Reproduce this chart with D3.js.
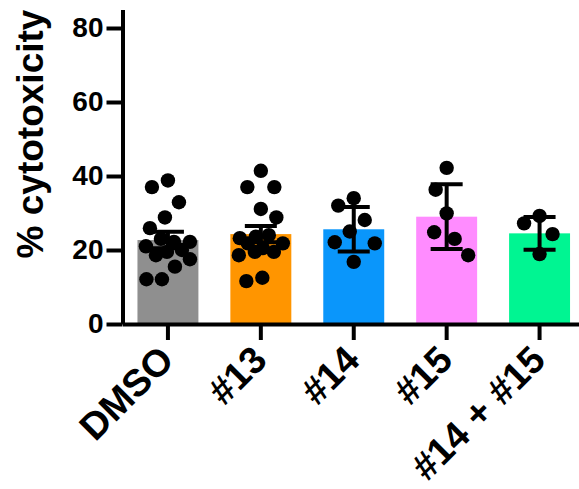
<!DOCTYPE html>
<html>
<head>
<meta charset="utf-8">
<script src="https://cdn.jsdelivr.net/npm/d3@7/dist/d3.min.js"></script>
<style>
  html, body { margin: 0; padding: 0; background: #fff; }
  svg { display: block; }
  text { font-family: "Liberation Sans", Arial, Helvetica, sans-serif; font-weight: bold; }
</style>
</head>
<body>
<script>
// ---- data ----
const categories = ["DMSO", "#13", "#14", "#15", "#14 + #15"];
const means = [22.7, 24.3, 25.6, 29.0, 24.5];
const errors = [2.2, 2.2, 6.0, 8.75, 4.4];
const pointsDMSO = [38.8, 37.0, 32.9, 28.8, 25.9, 22.2, 22.2, 23.0, 21.0, 20.0, 18.6, 19.5, 17.5, 15.5, 12.1, 12.1];
const points13 = [41.4, 37.0, 37.0, 31.1, 28.8, 23.6, 23.2, 24.0, 21.8, 21.8, 20.5, 19.5, 18.6, 19.5, 12.5, 11.6];
const points14 = [34.0, 32.0, 28.1, 25.0, 22.1, 21.8, 16.8];
const points15 = [42.2, 36.3, 29.9, 24.8, 23.0, 18.6];
const points1415 = [29.2, 27.2, 24.3, 18.9];
const yTicks = [0, 20, 40, 60, 80];
const yLabel = "% cytotoxicity";
const colors = ["#8f8f8f", "#ff9500", "#0a96fb", "#ff8cff", "#00f592"];

const points = [pointsDMSO, points13, points14, points15, points1415];

// ---- layout ----
const W = 579, H = 489;
const svg = d3.select("body").append("svg").attr("width", W).attr("height", H);

const x0 = 122.5, yBase = 324;
const y = d3.scaleLinear().domain([0, 85]).range([yBase, yBase - 85 * 3.7]);
const x = d3.scaleBand().domain(categories).range([x0, 585]).paddingInner(0.344).paddingOuter(0.161);

// bars
svg.append("g").selectAll("rect").data(categories).join("rect")
  .attr("x", d => x(d))
  .attr("width", x.bandwidth())
  .attr("y", (d, i) => y(means[i]))
  .attr("height", (d, i) => y(0) - y(means[i]))
  .attr("fill", (d, i) => colors[i]);

// error bars
const capHalf = 16;
const eb = svg.append("g").attr("stroke", "#000").attr("stroke-width", 4).attr("fill", "none");
categories.forEach((c, i) => {
  const cx = x(c) + x.bandwidth() / 2;
  const hi = y(means[i] + errors[i]), lo = y(means[i] - errors[i]);
  eb.append("line").attr("x1", cx).attr("x2", cx).attr("y1", hi).attr("y2", lo);
  eb.append("line").attr("x1", cx - capHalf).attr("x2", cx + capHalf).attr("y1", hi).attr("y2", hi);
  eb.append("line").attr("x1", cx - capHalf).attr("x2", cx + capHalf).attr("y1", lo).attr("y2", lo);
});

// dots: deterministic, clamped beeswarm (anisotropic spacing) in pixel space
const r = 7.2, D = 16, yFactor = 0.55, maxOff = 22;
const dotG = svg.append("g").attr("fill", "#000");
categories.forEach((c, i) => {
  const cx = x(c) + x.bandwidth() / 2;
  const placed = [];
  const minDist = (px, py) => placed.reduce((m, p) => Math.min(m, Math.hypot(p[0] - px, (p[1] - py) * yFactor)), Infinity);
  points[i].forEach((v, k) => {
    const py = y(v);
    let px = null;
    for (let s = 0; s <= maxOff && px === null; s += 0.5) {
      const cands = (k % 2 === 0) ? [s, -s] : [-s, s];
      for (const o of cands) {
        if (minDist(cx + o, py) >= D) { px = cx + o; break; }
      }
    }
    if (px === null) {
      let best = -1;
      for (let o = -maxOff; o <= maxOff; o += 1) {
        const md = minDist(cx + o, py);
        if (md > best + 0.01) { best = md; px = cx + o; }
      }
    }
    placed.push([px, py]);
  });
  dotG.selectAll(null).data(placed).join("circle")
    .attr("cx", d => d[0]).attr("cy", d => d[1]).attr("r", r);
});

// y axis
const yAxis = svg.append("g").attr("transform", `translate(${x0},0)`)
  .call(d3.axisLeft(y).tickValues(yTicks).tickSize(16).tickPadding(3).tickSizeOuter(0));
yAxis.select(".domain").attr("stroke", "#000").attr("stroke-width", 4);
yAxis.selectAll(".tick line").attr("stroke", "#000").attr("stroke-width", 4);
yAxis.selectAll(".tick text").attr("font-size", 28).attr("fill", "#000")
  .attr("font-family", "Liberation Sans, Arial, sans-serif").attr("font-weight", "bold");

// x axis
const xAxis = svg.append("g").attr("transform", `translate(0,${yBase})`)
  .call(d3.axisBottom(x).tickSize(16).tickSizeOuter(0));
xAxis.select(".domain").attr("stroke", "#000").attr("stroke-width", 4);
xAxis.selectAll(".tick line").attr("stroke", "#000").attr("stroke-width", 4);
xAxis.selectAll(".tick text")
  .attr("font-size", 38).attr("fill", "#000")
  .attr("font-family", "Liberation Sans, Arial, sans-serif").attr("font-weight", "bold")
  .attr("text-anchor", "end")
  .attr("dy", 0).attr("y", 0)
  .attr("transform", "translate(8,38) rotate(-45)");

// y label
svg.append("text")
  .attr("transform", `translate(43,134) rotate(-90)`)
  .attr("text-anchor", "middle")
  .attr("font-size", 37)
  .attr("fill", "#000")
  .text(yLabel);
</script>
</body>
</html>
